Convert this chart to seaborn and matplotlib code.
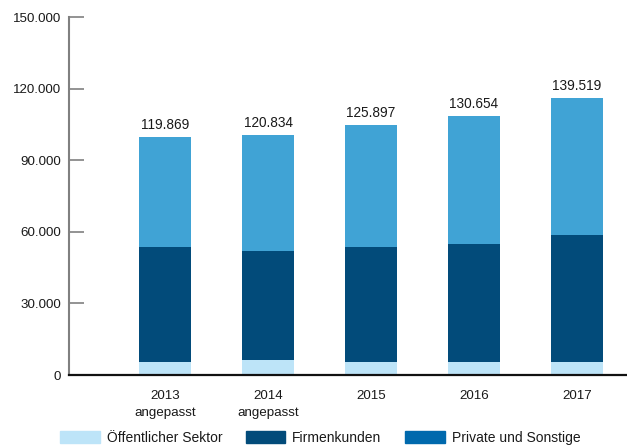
# -*- coding: utf-8 -*-
"""
Stacked bars: Kundenkredite nach Sektor 2013-2017
"""

# import libraries
import seaborn as sns
import matplotlib.pyplot as plt
from matplotlib.patches import Patch
import numpy as np

# data
years = ['2013\nangepasst', '2014\nangepasst', '2015', '2016', '2017']
oeffentlich = [5450, 6300, 5450, 5450, 5450]
firmenkunden = [48200, 45700, 48200, 49500, 53250]
private = [46250, 48750, 51300, 53800, 57550]
totals_text = ['119.869', '120.834', '125.897', '130.654', '139.519']

# colors
c_oeff = '#bde4f8'
c_firm = '#024b7a'
c_priv = '#40a3d5'
c_priv_legend = '#0069ad'

# set theme
sns.set_theme(style="white")
plt.rcParams['font.family'] = ['Liberation Sans', 'DejaVu Sans']

fig = plt.figure(figsize=(6.27, 4.48), dpi=100)
ax = fig.add_axes([69 / 627, 1 - 375 / 448, 1 - 69 / 627, (375 - 17.3) / 448])

# stacked bars drawn from the top down
lvl2 = np.add(oeffentlich, firmenkunden)
lvl3 = lvl2 + np.array(private)
for vals, col in [(lvl3, c_priv), (lvl2, c_firm), (oeffentlich, c_oeff)]:
    sns.barplot(x=years, y=vals, color=col, width=0.5, saturation=1,
                linewidth=0, edgecolor='none', ax=ax)

# total labels
for i, (h, t) in enumerate(zip(lvl3, totals_text)):
    ax.text(i, h + 2000, t, ha='center', va='bottom', fontsize=9.8,
            color='#1a1a1a')

# axes
ax.set_xlim(-0.932, 4.485)
ax.set_ylim(0, 150000)
ax.set_yticks([0, 30000, 60000, 90000, 120000, 150000])
ax.set_yticklabels(['0', '30.000', '60.000', '90.000', '120.000', '150.000'])
ax.tick_params(axis='y', direction='in', length=11, width=1.2,
               color='#808080', pad=5.8, labelsize=9.6, labelcolor='#1a1a1a',
               left=True)
ax.tick_params(axis='x', length=0, pad=10.5, labelsize=9.6, labelcolor='#1a1a1a')
for lab in ax.get_xticklabels():
    lab.set_linespacing(1.6)
    lab.set_va('top')
sns.despine(ax=ax, top=True, right=True)
ax.spines['left'].set_color('#808080')
ax.spines['left'].set_linewidth(1.5)
ax.spines['bottom'].set_color('#111111')
ax.spines['bottom'].set_linewidth(1.6)
ax.set_xlabel('')
ax.set_ylabel('')
ax.grid(False)

# legend
handles = [Patch(color=c_oeff), Patch(color=c_firm), Patch(color=c_priv_legend)]
labels = ['Öffentlicher Sektor', 'Firmenkunden', 'Private und Sonstige']
fig.legend(handles, labels, loc='center left', bbox_to_anchor=(60 / 627, 1 - 438 / 448),
           ncol=3, frameon=False, fontsize=10, borderpad=0, borderaxespad=0,
           handlelength=2.85, handleheight=0.9, handletextpad=0.5,
           columnspacing=1.7, labelcolor='#1a1a1a')

plt.savefig('out.png', dpi=100)
